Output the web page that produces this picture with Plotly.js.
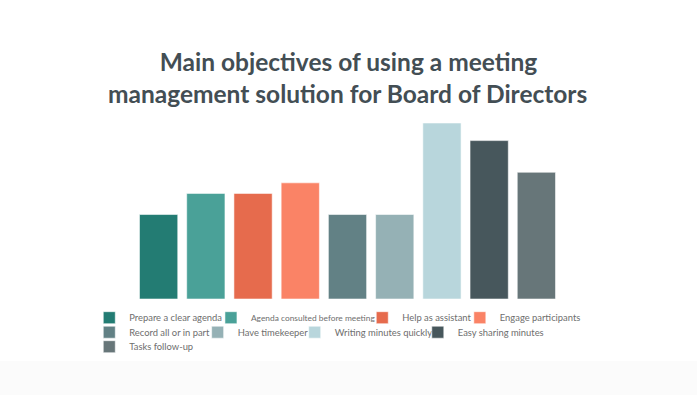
<!DOCTYPE html>
<html><head><meta charset="utf-8">
<script src="https://cdn.plot.ly/plotly-3.0.1.min.js"></script>
<style>html,body{margin:0;padding:0;background:#fbfbfb;} #chart{width:697px;height:361px;background:#fff;}</style>
</head><body><div id="chart"></div>
<script>
const categories = ["Prepare a clear agenda","Agenda consulted before meeting","Help as assistant","Engage participants","Record all or in part","Have timekeeper","Writing minutes quickly","Easy sharing minutes","Tasks follow-up"];
const values = [24, 30, 30, 33, 24, 24, 50, 45, 36];
const colors = ["#237c73","#4aa198","#e66b4d","#fa8366","#628185","#95b1b5","#b8d6dc","#47575c","#677679"];
const titleLine1 = "Main objectives of using a meeting";
const titleLine2 = "management solution for Board of Directors";

// legend entry placement (label start px, row centre px, label font size)
const legendSlots = [[127.7,318,9.4],[249.3,318,8.4],[400.5,318,9.4],[498,318,9.4],
                     [127.7,332.5,9.4],[236,332.5,9.4],[333,332.5,9.4],[456,332.5,9.4],[127.7,347,9.4]];
const W = 697, H = 361, L = 135.4, R = 136.9, T = 123.3, B = 61.7;
const pw = W - L - R, ph = H - T - B;
const titleFont = {family: 'Lato', size: 24.5, color: '#434e54', weight: 'bold'};

const traces = categories.map((c, i) => ({
  type: 'bar', x: [c], y: [values[i]], name: c,
  marker: {color: colors[i], line: {color: 'rgba(255,255,255,0.55)', width: 1}},
  legend: i === 0 ? 'legend' : 'legend' + (i + 1)
}));

const layout = {
  width: W, height: H,
  margin: {l: L, r: R, t: T, b: B, autoexpand: false},
  paper_bgcolor: '#ffffff', plot_bgcolor: '#ffffff',
  barmode: 'overlay', bargap: 0.19,
  xaxis: {visible: false, type: 'category', range: [-0.5, 8.5]},
  yaxis: {visible: false, range: [0, 50]},
  showlegend: true,
  title: {text: titleLine1, x: 0.5, xanchor: 'center', yref: 'container', y: 1 - 54 / H, yanchor: 'top',
          font: titleFont},
  annotations: [{text: titleLine2, xref: 'paper', x: 0.5, xanchor: 'center', yref: 'paper',
                 y: (H - B - 77) / ph, yanchor: 'top', showarrow: false, font: titleFont}]
};
legendSlots.forEach(([tx, sy, fs], i) => {
  const key = i === 0 ? 'legend' : 'legend' + (i + 1);
  layout[key] = {x: (tx - 38 - L) / pw, xanchor: 'left', y: (H - B - sy) / ph, yanchor: 'middle',
    orientation: 'h', bgcolor: 'rgba(0,0,0,0)', borderwidth: 0,
    font: {family: 'Lato', size: fs, color: '#6e6e6e'}};
});

Plotly.newPlot('chart', traces, layout, {displayModeBar: false, staticPlot: true});
</script>
</body></html>
